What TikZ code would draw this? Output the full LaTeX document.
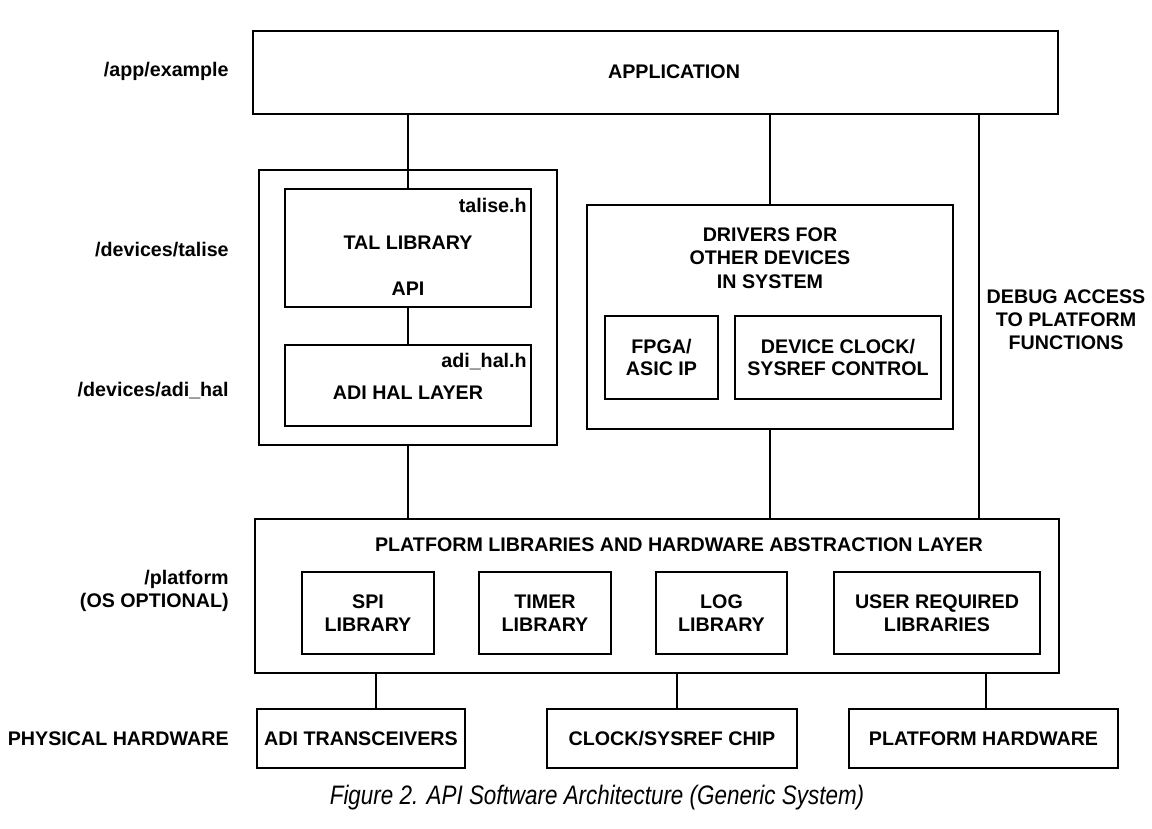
\documentclass[tikz,border=0pt]{standalone}
\usepackage{fontspec}
\setmainfont{Liberation Sans}
\newfontfamily\capfont[FakeStretch=0.84]{Liberation Sans}
\usepackage{tikz}

\begin{document}
\begin{tikzpicture}[x=0.02cm,y=-0.02cm,
    box/.style={draw,line width=1.1pt,inner sep=0pt,align=center},
    lbl/.style={font=\bfseries\fontsize{11.2}{13}\selectfont,align=center,inner sep=0pt},
    side/.style={lbl,anchor=east,align=right},
    link/.style={line width=1.1pt}]
    \useasboundingbox (0,0) rectangle (1152,828);

    % top
    \node[box,minimum width=16.1cm,minimum height=1.66cm] (app) at (655.5,72.5) {};
    \node[lbl] (applbl) at (674,72) {APPLICATION};

    % talise block
    \node[box,minimum width=5.96cm,minimum height=5.5cm] (talout) at (408,307.5) {};
    \node[box,minimum width=4.92cm,minimum height=2.36cm] (tal) at (408,248) {};
    \node[box,minimum width=4.92cm,minimum height=1.62cm] (hal) at (408,385.5) {};
    \node[lbl,anchor=east] (talh) at (527,205) {talise.h};
    \node[lbl] (tallib) at (408,243) {TAL LIBRARY};
    \node[lbl] (api) at (408,289) {API};
    \node[lbl,anchor=east] (halh) at (527,362) {adi\_hal.h};
    \node[lbl] (hallbl) at (408,393) {ADI HAL LAYER};

    % other drivers
    \node[box,minimum width=7.32cm,minimum height=4.48cm] (drv) at (770,317) {};
    \node[lbl,font=\bfseries\fontsize{11.2}{13.3}\selectfont] (drvlbl) at (770,258) {DRIVERS FOR\\OTHER DEVICES\\IN SYSTEM};
    \node[box,lbl,draw,line width=1.1pt,minimum width=2.26cm,minimum height=1.66cm] (fpga) at (661.5,357.5) {FPGA/\\ASIC IP};
    \node[box,lbl,draw,line width=1.1pt,minimum width=4.12cm,minimum height=1.66cm] (devclk) at (838,357.5) {DEVICE CLOCK/\\SYSREF CONTROL};

    \node[lbl] (dbg) at (1066,320) {DEBUG ACCESS\\TO PLATFORM\\FUNCTIONS};
    \coordinate (dbgx) at (979,320);

    % platform
    \node[box,minimum width=16.08cm,minimum height=3.08cm] (plat) at (657,596) {};
    \node[lbl] (platlbl) at (679,545) {PLATFORM LIBRARIES AND HARDWARE ABSTRACTION LAYER};
    \node[box,lbl,draw,line width=1.1pt,minimum width=2.64cm,minimum height=1.64cm] (spi) at (368,613) {SPI\\LIBRARY};
    \node[box,lbl,draw,line width=1.1pt,minimum width=2.64cm,minimum height=1.64cm] (timer) at (545,613) {TIMER\\LIBRARY};
    \node[box,lbl,draw,line width=1.1pt,minimum width=2.62cm,minimum height=1.64cm] (log) at (721.5,613) {LOG\\LIBRARY};
    \node[box,lbl,draw,line width=1.1pt,minimum width=4.12cm,minimum height=1.64cm] (usr) at (937,613) {USER REQUIRED\\LIBRARIES};

    % hardware
    \node[box,lbl,draw,line width=1.1pt,minimum width=4.16cm,minimum height=1.18cm] (hwadi) at (361,738.5) {ADI TRANSCEIVERS};
    \node[box,lbl,draw,line width=1.1pt,minimum width=5.0cm,minimum height=1.18cm] (hwclk) at (672,738.5) {CLOCK/SYSREF CHIP};
    \node[box,lbl,draw,line width=1.1pt,minimum width=5.38cm,minimum height=1.18cm] (hwplat) at (983.5,738.5) {PLATFORM HARDWARE};
    \coordinate (hwadix) at (376,700);
    \coordinate (hwclkx) at (677,700);
    \coordinate (hwplatx) at (986,700);

    % left column
    \node[side] (pathapp) at (229,71) {/app/example};
    \node[side] (pathtal) at (229,250) {/devices/talise};
    \node[side] (pathhal) at (229,391) {/devices/adi\_hal};
    \node[side] (pathplat) at (229,591) {/platform\\(OS OPTIONAL)};
    \node[side] (pathhw) at (229,739) {PHYSICAL HARDWARE};

    \node[font=\capfont\itshape\fontsize{15.2}{17}\selectfont,inner sep=0pt] (cap) at (597,798) {Figure 2. API Software Architecture (Generic System)};

    \path[link]
    (app.south -| tal.north) edge (tal.north)
    (tal) edge (hal)
    (talout.south) edge (talout.south |- plat.north)
    (app.south -| drv.north) edge (drv.north)
    (drv.south) edge (drv.south |- plat.north)
    (app.south -| dbgx) edge (plat.north -| dbgx)
    (plat.south -| hwadix) edge (hwadi.north -| hwadix)
    (plat.south -| hwclkx) edge (hwclk.north -| hwclkx)
    (plat.south -| hwplatx) edge (hwplat.north -| hwplatx);
\end{tikzpicture}
\end{document}
